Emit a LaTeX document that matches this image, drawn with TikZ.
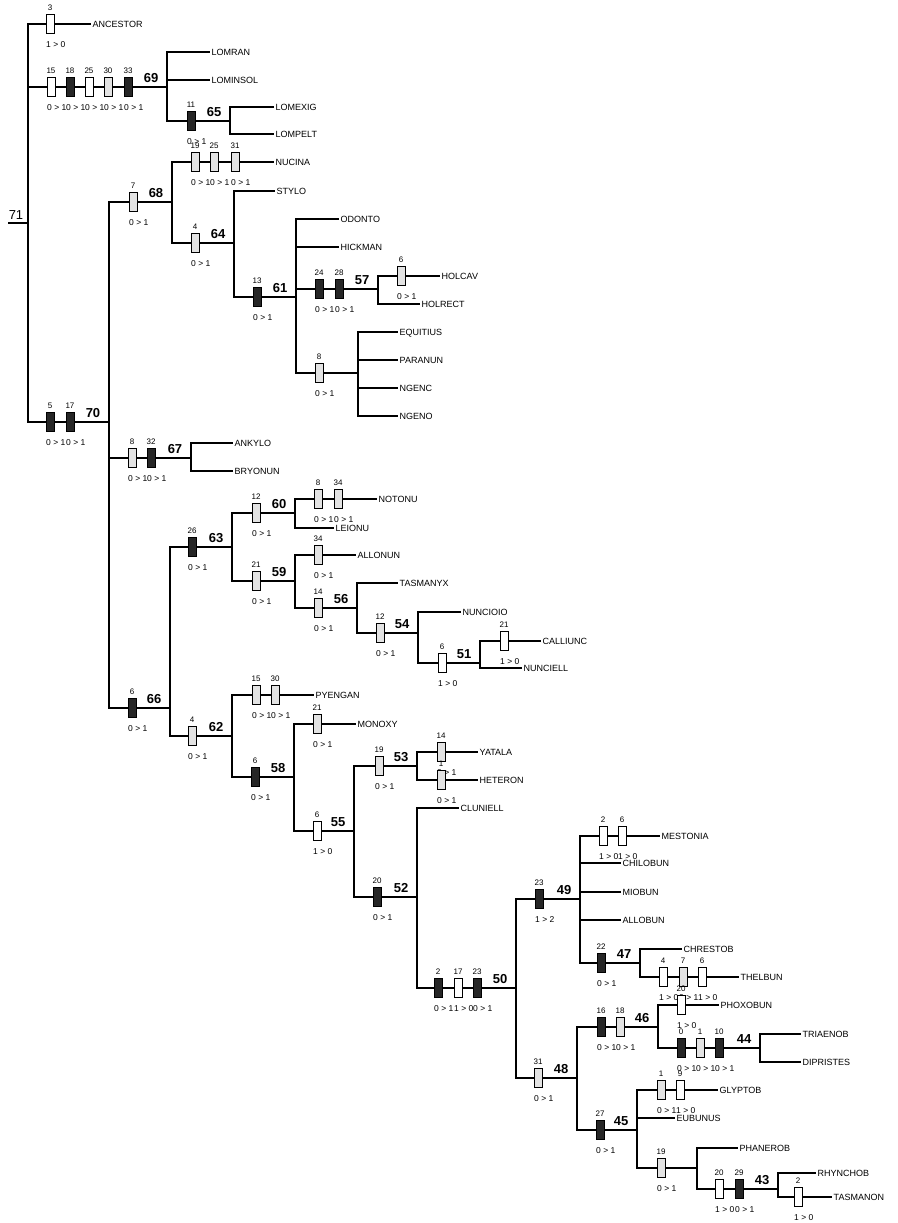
\documentclass[tikz,border=0pt]{standalone}
\usepackage{fontspec}
\setmainfont{Liberation Sans}

% numbered branching point: name, x, y, number
\newcommand{\clade}[4]{%
  \coordinate (#1) at (#2,#3);
  \node[cladeno] at (#2-16,#3-9) {#4};}
% character change on a branch: x, y, box style, character, state
\newcommand{\trait}[5]{%
  \node[#3] at (#1,#2) {};
  \node[charno] at (#1,#2-16) {#4};
  \node[stateno] at (#1-4,#2+21) {#5};}

\begin{document}
\begin{tikzpicture}[x=1pt, y=-1pt,
  branch/.style={line width=1.1pt},
  taxon/.style={anchor=west, inner sep=1.5pt, text height=6.5pt, text depth=0pt,
    font=\fontsize{9}{10}\selectfont},
  cladeno/.style={inner sep=0pt, font=\fontsize{13}{14}\selectfont\bfseries},
  charno/.style={inner sep=0pt, font=\fontsize{8}{9}\selectfont},
  stateno/.style={anchor=west, inner sep=0pt, font=\fontsize{8.5}{9}\selectfont},
  cbox/.style={draw, line width=0.6pt, inner sep=0pt, minimum width=8pt, minimum height=19pt},
  wbox/.style={cbox, fill=white},
  gbox/.style={cbox, fill=gray!22},
  bbox/.style={cbox, fill=black!85}]

\useasboundingbox (0,0) rectangle (897,1223);

%root
\coordinate (root) at (8,223);
\node[cladeno, font=\fontsize{13}{14}\selectfont] at (16,215) {71};
\coordinate (n71) at (28,223);

\clade{n69}{167}{87}{69}
\clade{n65}{230}{121}{65}
\clade{n70}{109}{422}{70}
\clade{n68}{172}{202}{68}
\clade{n64}{234}{243}{64}
\clade{n61}{296}{297}{61}
\clade{n57}{378}{289}{57}
\coordinate (n8) at (358,373);
\clade{n67}{191}{458}{67}
\clade{n66}{170}{708}{66}
\clade{n63}{232}{547}{63}
\clade{n60}{295}{513}{60}
\clade{n59}{295}{581}{59}
\clade{n56}{357}{608}{56}
\clade{n54}{418}{633}{54}
\clade{n51}{480}{663}{51}
\clade{n62}{232}{736}{62}
\clade{n58}{294}{777}{58}
\clade{n55}{354}{831}{55}
\clade{n53}{417}{766}{53}
\clade{n52}{417}{897}{52}
\clade{n50}{516}{988}{50}
\clade{n49}{580}{899}{49}
\clade{n47}{640}{963}{47}
\clade{n48}{577}{1078}{48}
\clade{n46}{658}{1027}{46}
\clade{n44}{760}{1048}{44}
\clade{n45}{637}{1130}{45}
\coordinate (n19) at (697,1168);
\clade{n43}{778}{1189}{43}

%terminal taxa
\node[taxon] (ancestor) at (91,24) {ANCESTOR};
\node[taxon] (lomran) at (210,52) {LOMRAN};
\node[taxon] (lominsol) at (210,80) {LOMINSOL};
\node[taxon] (lomexig) at (274,107) {LOMEXIG};
\node[taxon] (lompelt) at (274,134) {LOMPELT};
\node[taxon] (nucina) at (274,162) {NUCINA};
\node[taxon] (stylo) at (275,191) {STYLO};
\node[taxon] (odonto) at (339,219) {ODONTO};
\node[taxon] (hickman) at (339,247) {HICKMAN};
\node[taxon] (holcav) at (440,276) {HOLCAV};
\node[taxon] (holrect) at (420,304) {HOLRECT};
\node[taxon] (equitius) at (398,332) {EQUITIUS};
\node[taxon] (paranun) at (398,360) {PARANUN};
\node[taxon] (ngenc) at (398,388) {NGENC};
\node[taxon] (ngeno) at (398,416) {NGENO};
\node[taxon] (ankylo) at (233,443) {ANKYLO};
\node[taxon] (bryonun) at (233,471) {BRYONUN};
\node[taxon] (notonu) at (377,499) {NOTONU};
\node[taxon] (leionu) at (334,528) {LEIONU};
\node[taxon] (allonun) at (356,555) {ALLONUN};
\node[taxon] (tasmanyx) at (398,583) {TASMANYX};
\node[taxon] (nuncioio) at (461,612) {NUNCIOIO};
\node[taxon] (calliunc) at (541,641) {CALLIUNC};
\node[taxon] (nunciell) at (522,668) {NUNCIELL};
\node[taxon] (pyengan) at (314,695) {PYENGAN};
\node[taxon] (monoxy) at (356,724) {MONOXY};
\node[taxon] (yatala) at (478,752) {YATALA};
\node[taxon] (heteron) at (478,780) {HETERON};
\node[taxon] (cluniell) at (459,808) {CLUNIELL};
\node[taxon] (mestonia) at (660,836) {MESTONIA};
\node[taxon] (chilobun) at (621,863) {CHILOBUN};
\node[taxon] (miobun) at (621,892) {MIOBUN};
\node[taxon] (allobun) at (621,920) {ALLOBUN};
\node[taxon] (chrestob) at (682,949) {CHRESTOB};
\node[taxon] (thelbun) at (739,977) {THELBUN};
\node[taxon] (phoxobun) at (719,1005) {PHOXOBUN};
\node[taxon] (triaenob) at (801,1034) {TRIAENOB};
\node[taxon] (dipristes) at (801,1062) {DIPRISTES};
\node[taxon] (glyptob) at (718,1090) {GLYPTOB};
\node[taxon] (eubunus) at (675,1118) {EUBUNUS};
\node[taxon] (phanerob) at (738,1148) {PHANEROB};
\node[taxon] (rhynchob) at (816,1173) {RHYNCHOB};
\node[taxon] (tasmanon) at (832,1197) {TASMANON};

%branches
\draw[branch] (root) -- (n71);
\foreach \p/\c in {n71/ancestor.west, n71/n69, n71/n70,
    n69/lomran.west, n69/lominsol.west, n69/n65,
    n65/lomexig.west, n65/lompelt.west,
    n70/n68, n70/n67, n70/n66,
    n68/nucina.west, n68/n64,
    n64/stylo.west, n64/n61,
    n61/odonto.west, n61/hickman.west, n61/n57, n61/n8,
    n57/holcav.west, n57/holrect.west,
    n8/equitius.west, n8/paranun.west, n8/ngenc.west, n8/ngeno.west,
    n67/ankylo.west, n67/bryonun.west,
    n66/n63, n66/n62,
    n63/n60, n63/n59,
    n60/notonu.west, n60/leionu.west,
    n59/allonun.west, n59/n56,
    n56/tasmanyx.west, n56/n54,
    n54/nuncioio.west, n54/n51,
    n51/calliunc.west, n51/nunciell.west,
    n62/pyengan.west, n62/n58,
    n58/monoxy.west, n58/n55,
    n55/n53, n55/n52,
    n53/yatala.west, n53/heteron.west,
    n52/cluniell.west, n52/n50,
    n50/n49, n50/n48,
    n49/mestonia.west, n49/chilobun.west, n49/miobun.west, n49/allobun.west, n49/n47,
    n47/chrestob.west, n47/thelbun.west,
    n48/n46, n48/n45,
    n46/phoxobun.west, n46/n44,
    n44/triaenob.west, n44/dipristes.west,
    n45/glyptob.west, n45/eubunus.west, n45/n19,
    n19/phanerob.west, n19/n43,
    n43/rhynchob.west, n43/tasmanon.west}
  \draw[branch] (\p) |- (\c);

%character changes
\trait{50}{24}{wbox}{3}{1 > 0}
\trait{51}{87}{wbox}{15}{0 > 1}
\trait{70}{87}{bbox}{18}{0 > 1}
\trait{89}{87}{wbox}{25}{0 > 1}
\trait{108}{87}{gbox}{30}{0 > 1}
\trait{128}{87}{bbox}{33}{0 > 1}
\trait{191}{121}{bbox}{11}{0 > 1}
\trait{195}{162}{gbox}{19}{0 > 1}
\trait{214}{162}{gbox}{25}{0 > 1}
\trait{235}{162}{gbox}{31}{0 > 1}
\trait{133}{202}{gbox}{7}{0 > 1}
\trait{195}{243}{gbox}{4}{0 > 1}
\trait{257}{297}{bbox}{13}{0 > 1}
\trait{319}{289}{bbox}{24}{0 > 1}
\trait{339}{289}{bbox}{28}{0 > 1}
\trait{401}{276}{gbox}{6}{0 > 1}
\trait{319}{373}{gbox}{8}{0 > 1}
\trait{50}{422}{bbox}{5}{0 > 1}
\trait{70}{422}{bbox}{17}{0 > 1}
\trait{132}{458}{gbox}{8}{0 > 1}
\trait{151}{458}{bbox}{32}{0 > 1}
\trait{132}{708}{bbox}{6}{0 > 1}
\trait{192}{547}{bbox}{26}{0 > 1}
\trait{256}{513}{gbox}{12}{0 > 1}
\trait{318}{499}{gbox}{8}{0 > 1}
\trait{338}{499}{gbox}{34}{0 > 1}
\trait{256}{581}{gbox}{21}{0 > 1}
\trait{318}{555}{gbox}{34}{0 > 1}
\trait{318}{608}{gbox}{14}{0 > 1}
\trait{380}{633}{gbox}{12}{0 > 1}
\trait{442}{663}{wbox}{6}{1 > 0}
\trait{504}{641}{wbox}{21}{1 > 0}
\trait{192}{736}{gbox}{4}{0 > 1}
\trait{256}{695}{gbox}{15}{0 > 1}
\trait{275}{695}{gbox}{30}{0 > 1}
\trait{255}{777}{bbox}{6}{0 > 1}
\trait{317}{724}{gbox}{21}{0 > 1}
\trait{317}{831}{wbox}{6}{1 > 0}
\trait{379}{766}{gbox}{19}{0 > 1}
\trait{441}{752}{gbox}{14}{0 > 1}
\trait{441}{780}{gbox}{1}{0 > 1}
\trait{377}{897}{bbox}{20}{0 > 1}
\trait{438}{988}{bbox}{2}{0 > 1}
\trait{458}{988}{wbox}{17}{1 > 0}
\trait{477}{988}{bbox}{23}{0 > 1}
\trait{539}{899}{bbox}{23}{1 > 2}
\trait{603}{836}{wbox}{2}{1 > 0}
\trait{622}{836}{wbox}{6}{1 > 0}
\trait{601}{963}{bbox}{22}{0 > 1}
\trait{663}{977}{wbox}{4}{1 > 0}
\trait{683}{977}{gbox}{7}{0 > 1}
\trait{702}{977}{wbox}{6}{1 > 0}
\trait{538}{1078}{gbox}{31}{0 > 1}
\trait{601}{1027}{bbox}{16}{0 > 1}
\trait{620}{1027}{gbox}{18}{0 > 1}
\trait{681}{1005}{wbox}{20}{1 > 0}
\trait{681}{1048}{bbox}{0}{0 > 1}
\trait{700}{1048}{gbox}{1}{0 > 1}
\trait{719}{1048}{bbox}{10}{0 > 1}
\trait{600}{1130}{bbox}{27}{0 > 1}
\trait{661}{1090}{gbox}{1}{0 > 1}
\trait{680}{1090}{wbox}{9}{1 > 0}
\trait{661}{1168}{gbox}{19}{0 > 1}
\trait{719}{1189}{wbox}{20}{1 > 0}
\trait{739}{1189}{bbox}{29}{0 > 1}
\trait{798}{1197}{wbox}{2}{1 > 0}

\end{tikzpicture}
\end{document}
